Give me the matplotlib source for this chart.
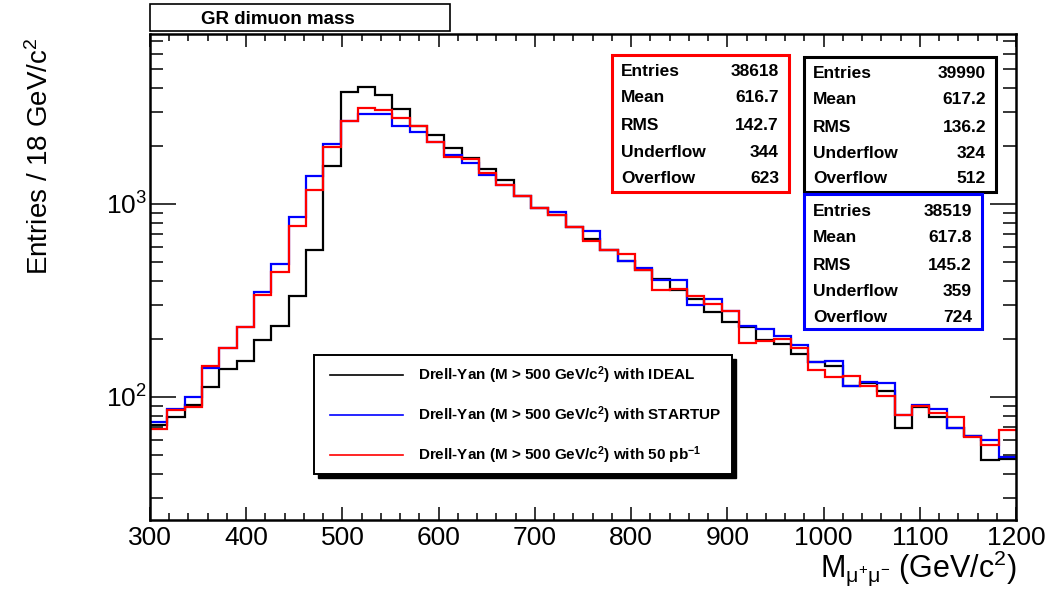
import numpy as np
import matplotlib
matplotlib.use("Agg")
import matplotlib.pyplot as plt
from matplotlib.patches import Rectangle
from matplotlib.ticker import LogLocator, FixedLocator, NullFormatter, MultipleLocator

plt.rcParams['font.family'] = ['Liberation Sans', 'DejaVu Sans']
plt.rcParams['mathtext.fontset'] = 'custom'
plt.rcParams['mathtext.rm'] = 'Liberation Sans'
plt.rcParams['mathtext.it'] = 'Liberation Sans:italic'
plt.rcParams['mathtext.bf'] = 'Liberation Sans:bold'

# ---------------- data ----------------
x_min, x_max, n_bins = 300, 1200, 50

ideal = [71.9, 78.8, 90.9, 112.7, 139.7, 154.2, 196.5, 232, 335, 575,
         1566, 3804, 4038, 3653, 3106, 2523, 2278, 1941, 1731, 1511,
         1336, 1095, 953, 873, 762, 659, 580, 508, 457, 410,
         360, 323, 276, 243, 230, 198, 187, 166, 152, 144,
         114, 118, 107, 69, 89, 79, 69, 63, 47, 47.5]

startup = [73.9, 86.7, 100, 141.8, 179.5, 231, 351, 491, 852, 1390,
           2046, 2701, 2937, 2937, 2523, 2360, 2085, 1786, 1630, 1413,
           1249, 1095, 953, 905, 760, 727, 580, 504, 468, 402,
           402, 298, 323, 277, 234, 225, 206, 185, 152, 153,
           114, 119, 118, 81, 91, 87, 69, 62.5, 59.6, 48.5]

pb50 = [68.1, 85.2, 88.7, 145.3, 179.5, 231, 338, 442, 766, 1186,
        1965, 2701, 3155, 3080, 2790, 2523, 2085, 1758, 1711, 1447,
        1249, 1095, 953, 873, 760, 640, 580, 553, 457, 356,
        362, 335, 304, 277, 190.5, 194, 200, 179.5, 138.5, 127,
        128, 114, 101, 81, 89.4, 82.6, 78.8, 62, 56.6, 67.7]

series_labels = [r"Drell-Yan (M > 500 GeV/c$^{\mathbf{2}}$) with IDEAL",
                 r"Drell-Yan (M > 500 GeV/c$^{\mathbf{2}}$) with STARTUP",
                 r"Drell-Yan (M > 500 GeV/c$^{\mathbf{2}}$) with 50 pb$^{\mathbf{-1}}$"]
series_colors = ['black', '#0000ff', '#ff0000']

stat_names = ["Entries", "Mean", "RMS", "Underflow", "Overflow"]
stats_ideal = ["39990", "617.2", "136.2", "324", "512"]
stats_startup = ["38519", "617.8", "145.2", "359", "724"]
stats_pb50 = ["38618", "616.7", "142.7", "344", "623"]

x_ticks = [300, 400, 500, 600, 700, 800, 900, 1000, 1100, 1200]
title = "GR dimuon mass"

# ---------------- figure ----------------
W, H = 1056, 597
fig = plt.figure(figsize=(W / 100, H / 100), dpi=100)

def fx(px):
    return px / W

def fy(py):
    return 1 - py / H

L, R, T, B = 150, 1016, 34, 520
ax = fig.add_axes([fx(L), fy(B), fx(R) - fx(L), fy(T) - fy(B)])

edges = np.linspace(x_min, x_max, n_bins + 1)
for vals, col in zip([ideal, startup, pb50], series_colors):
    ax.stairs(vals, edges, color=col, lw=1.6, baseline=None)

ax.set_yscale('log')
ax.set_xlim(x_min, x_max)
ax.set_ylim(23, 7600)

ax.xaxis.set_major_locator(FixedLocator(x_ticks))
ax.xaxis.set_minor_locator(MultipleLocator(20))
ax.yaxis.set_major_locator(LogLocator(base=10, numticks=10))
ax.yaxis.set_minor_locator(LogLocator(base=10, subs=np.arange(2, 10), numticks=20))
ax.yaxis.set_minor_formatter(NullFormatter())

for s in ax.spines.values():
    s.set_linewidth(1.8)

ax.tick_params(axis='x', which='major', direction='in', length=9.4, width=1.1,
               top=True, bottom=True, labelsize=19, pad=4)
ax.tick_params(axis='x', which='minor', direction='in', length=4.7, width=1.1,
               top=True, bottom=True)
ax.tick_params(axis='y', which='major', direction='in', length=19, width=1.1,
               left=True, right=True, labelsize=19, pad=2)
ax.tick_params(axis='y', which='minor', direction='in', length=9.4, width=1.1,
               left=True, right=True)

# axis titles
fig.text(fx(1017), fy(568), r"M$_{\mathrm{\mu^{+}\mu^{-}}}$ (GeV/c$^{2}$)",
         ha='right', va='center', fontsize=22)
fig.text(fx(40), fy(38), r"Entries / 18 GeV/c$^{2}$", rotation=90,
         ha='center', va='top', fontsize=20)

# title box
fig.add_artist(Rectangle((fx(150), fy(31)), fx(450) - fx(150), fy(4) - fy(31),
                         transform=fig.transFigure, facecolor='white',
                         edgecolor='black', lw=1.2))
fig.text(fx(278), fy(19), title, ha='center', va='center', fontsize=13.5,
         fontweight='bold')

# stat boxes
def stat_box(x0, y0, x1, y1, color, values, row_y):
    fig.add_artist(Rectangle((fx(x0), fy(y1)), fx(x1) - fx(x0), fy(y0) - fy(y1),
                             transform=fig.transFigure, facecolor='white',
                             edgecolor=color, lw=2.2, zorder=5))
    for name, val, yy in zip(stat_names, values, row_y):
        fig.text(fx(x0 + 9), fy(yy), name, ha='left', va='center',
                 fontsize=12.5, fontweight='bold', zorder=6)
        fig.text(fx(x1 - 10), fy(yy), val, ha='right', va='center',
                 fontsize=12.5, fontweight='bold', zorder=6)

stat_box(612, 55, 789, 192, series_colors[2], stats_pb50,
         [71, 98, 125, 152, 179])
stat_box(804, 57, 996, 192, series_colors[0], stats_ideal,
         [74, 100, 127, 153, 179])
stat_box(804, 194, 982, 329, series_colors[1], stats_startup,
         [211, 238, 265, 291, 318])

# legend with shadow
lx0, ly0, lx1, ly1 = 314, 355, 732, 474
fig.add_artist(Rectangle((fx(lx0 + 4), fy(ly1 + 4)), fx(lx1) - fx(lx0), fy(ly0) - fy(ly1),
                         transform=fig.transFigure, facecolor='black',
                         edgecolor='black', lw=1.0, zorder=5))
fig.add_artist(Rectangle((fx(lx0), fy(ly1)), fx(lx1) - fx(lx0), fy(ly0) - fy(ly1),
                         transform=fig.transFigure, facecolor='white',
                         edgecolor='black', lw=1.4, zorder=6))
for lab, col, yy in zip(series_labels, series_colors, [375, 415, 455]):
    fig.add_artist(plt.Line2D([fx(330), fx(403)], [fy(yy), fy(yy)],
                              transform=fig.transFigure, color=col, lw=1.2, zorder=7))
    fig.text(fx(418), fy(yy), lab, ha='left', va='center', fontsize=11,
             fontweight='bold', zorder=7)

fig.savefig("out.png", dpi=100)
